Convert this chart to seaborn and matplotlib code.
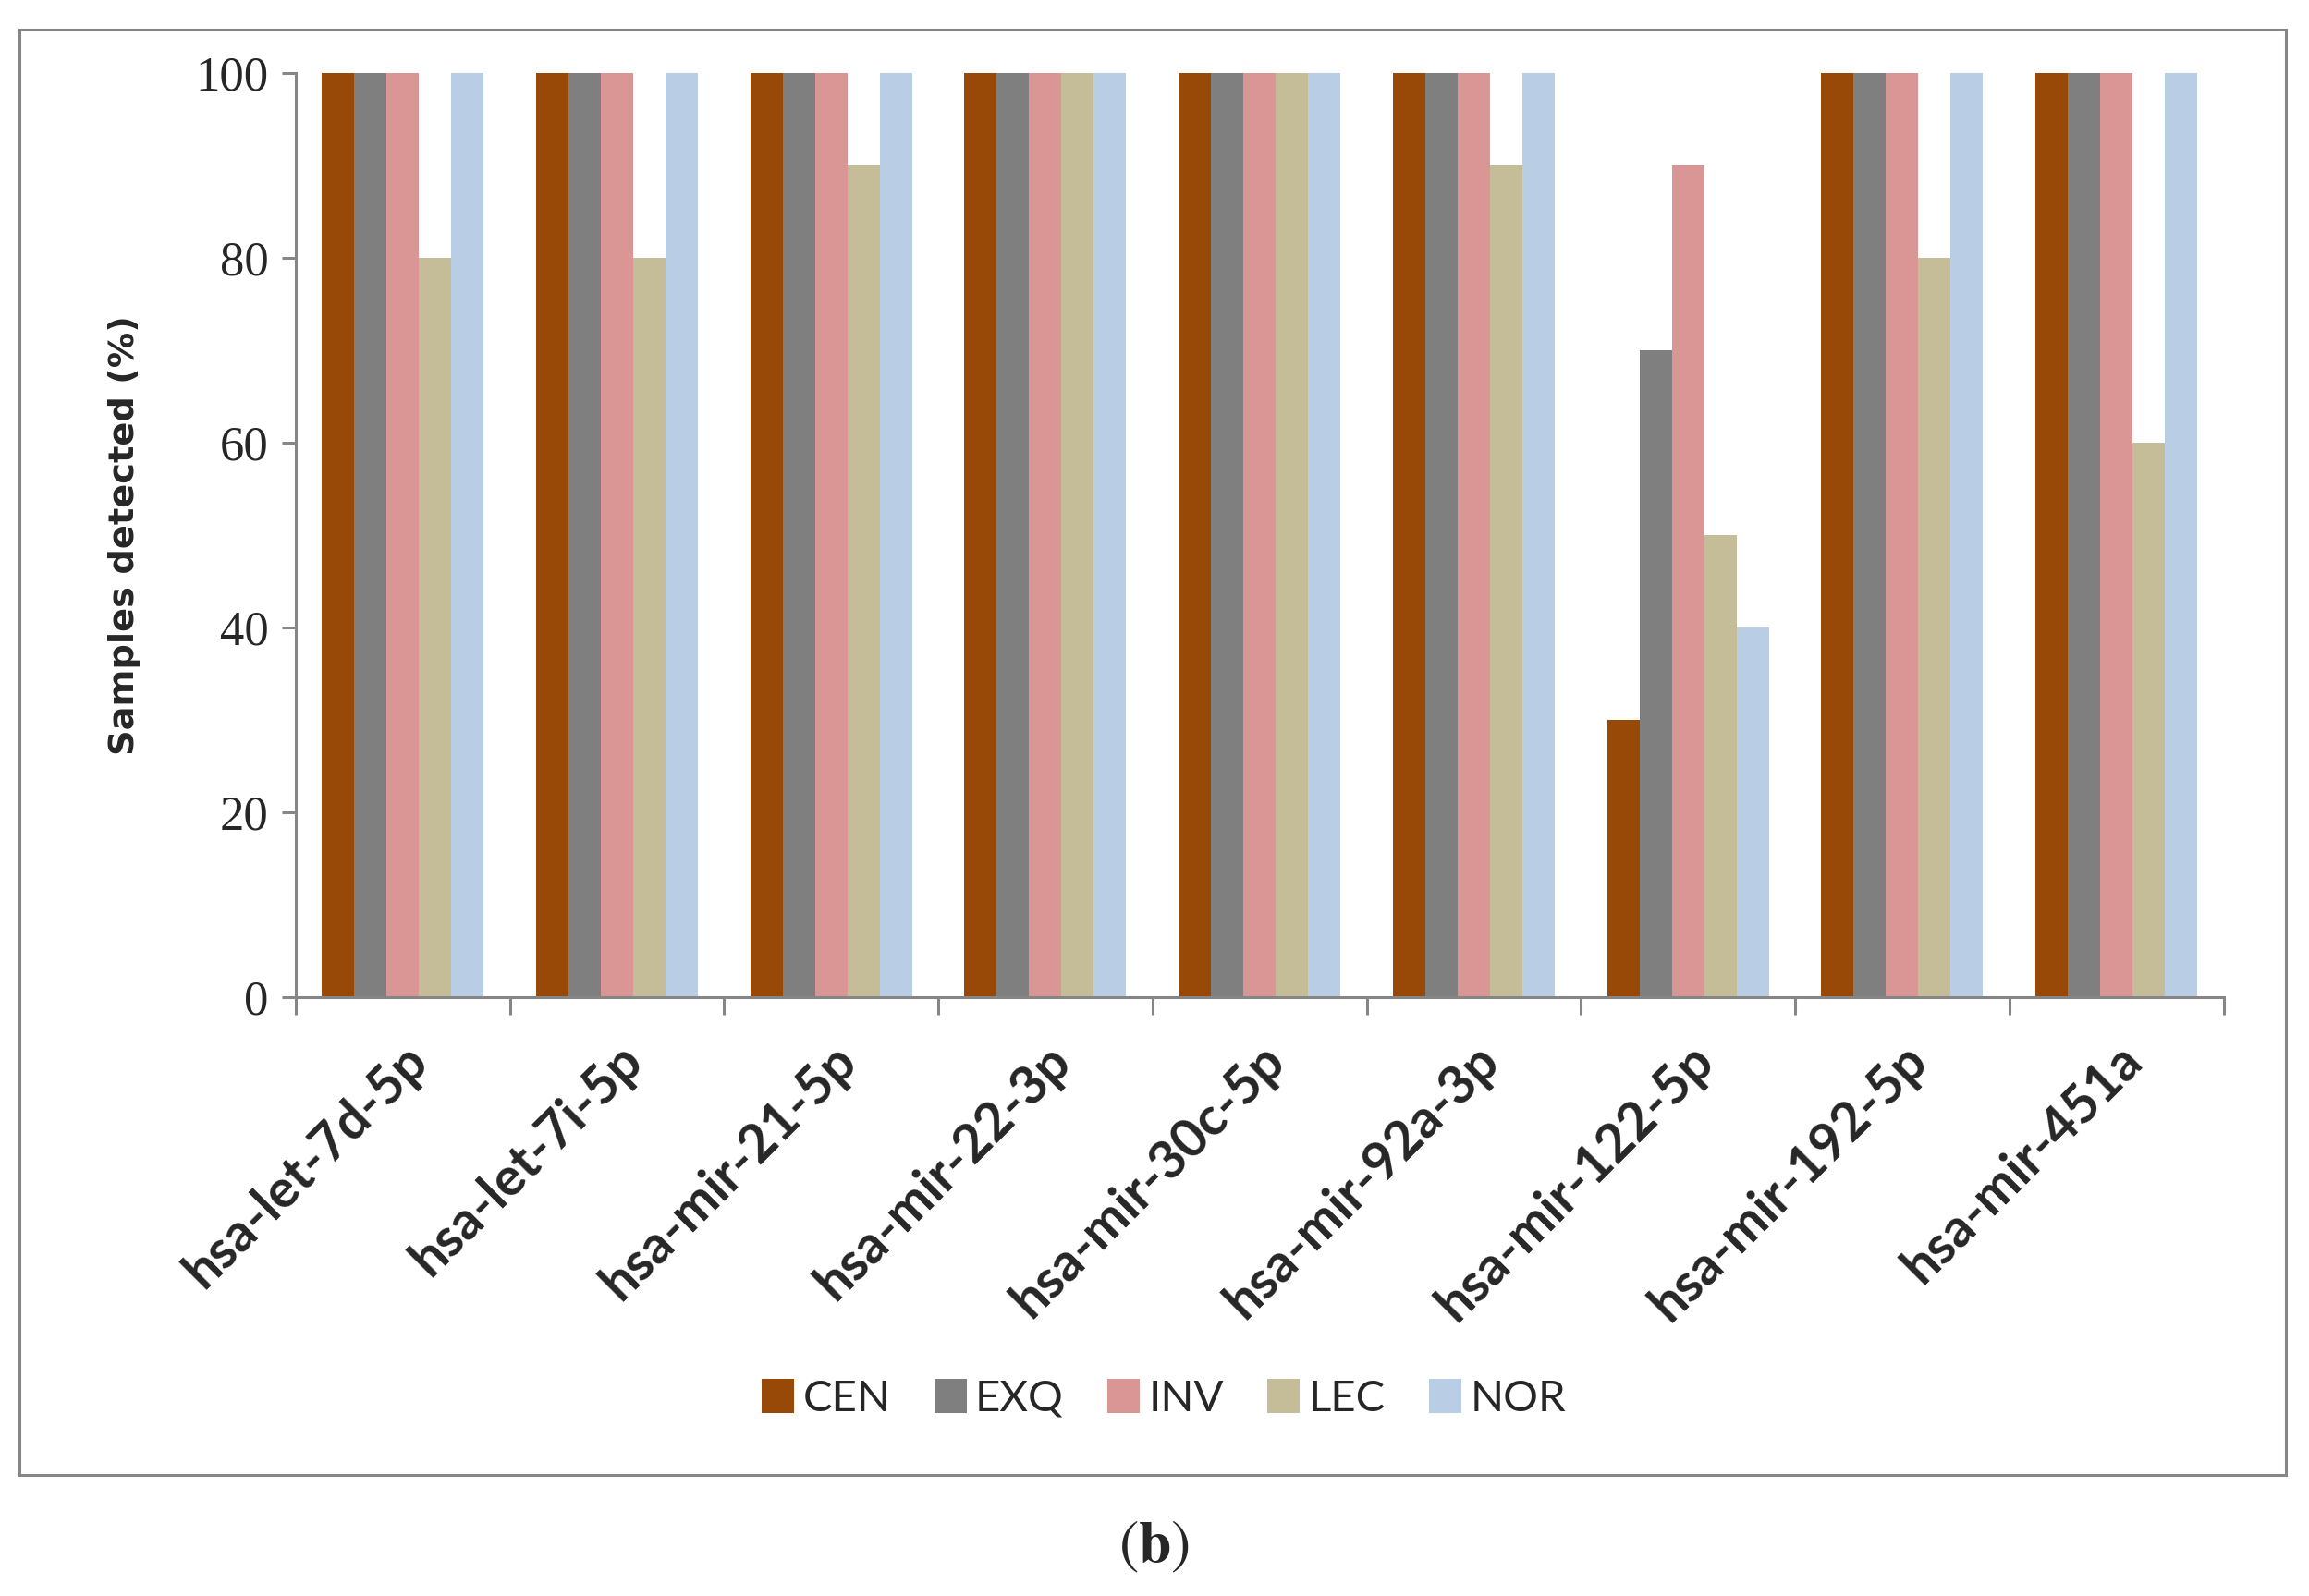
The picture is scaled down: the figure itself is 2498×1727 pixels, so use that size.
import numpy as np
import pandas as pd
import matplotlib
matplotlib.use("Agg")
import matplotlib.pyplot as plt
from matplotlib.patches import Rectangle
import seaborn as sns

mirnas = ['hsa-let-7d-5p', 'hsa-let-7i-5p', 'hsa-mir-21-5p', 'hsa-mir-22-3p',
          'hsa-mir-30c-5p', 'hsa-mir-92a-3p', 'hsa-mir-122-5p', 'hsa-mir-192-5p',
          'hsa-mir-451a']
groups = ['CEN', 'EXQ', 'INV', 'LEC', 'NOR']

cen = [100, 100, 100, 100, 100, 100, 30, 100, 100]
exq = [100, 100, 100, 100, 100, 100, 70, 100, 100]
inv = [100, 100, 100, 100, 100, 100, 90, 100, 100]
lec = [80, 80, 90, 100, 100, 90, 50, 80, 60]
nor = [100, 100, 100, 100, 100, 100, 40, 100, 100]

yticks = [0, 20, 40, 60, 80, 100]
colors = ['#984807', '#7f7f7f', '#d99694', '#c4bd97', '#b9cde5']

# long format for seaborn
rows = []
for g, vals in zip(groups, [cen, exq, inv, lec, nor]):
    for m, v in zip(mirnas, vals):
        rows.append({'mirna': m, 'group': g, 'pct': v})
df = pd.DataFrame(rows)

sns.set_style('white')
plt.rcParams['mathtext.fontset'] = 'stix'

fig = plt.figure(figsize=(12.49, 8.635), dpi=200)
ax = fig.add_axes([0.128, 0.3755, 0.835, 0.5785])

sns.barplot(data=df, x='mirna', y='pct', hue='group', order=mirnas,
            hue_order=groups, palette=colors, saturation=1, width=0.755,
            gap=0, linewidth=0, ax=ax)

grey = '#868686'
ax.set_xlim(-0.5, len(mirnas) - 0.5)
ax.set_ylim(0, 100)
ax.set_yticks(yticks)
ax.set_yticklabels([str(t) for t in yticks], fontfamily='Liberation Serif', fontsize=19)
ax.tick_params(axis='y', direction='out', length=5.5, width=1.1, color=grey,
               pad=5, left=True)

# group labels, with ticks at the group boundaries
ax.set_xticks(range(len(mirnas)))
ax.set_xticklabels(mirnas, rotation=45, ha='right', rotation_mode='anchor',
                   fontfamily='Lato', fontweight='bold', fontsize=20.5)
ax.tick_params(axis='x', which='major', length=0, pad=15)
ax.set_xticks(np.arange(-0.5, len(mirnas)), minor=True)
ax.tick_params(axis='x', which='minor', direction='out', length=7, width=1.1,
               color=grey, bottom=True)

for side in ['top', 'right']:
    ax.spines[side].set_visible(False)
for side in ['left', 'bottom']:
    ax.spines[side].set_color(grey)
    ax.spines[side].set_linewidth(1.1)

ax.set_xlabel('')
ax.set_ylabel('Samples detected (%)', fontfamily='DejaVu Sans', fontweight='bold',
              fontsize=13.8)
ax.yaxis.set_label_coords(-0.08, 0.5)

ax.legend_.remove()
handles = [Rectangle((0, 0), 1, 1, facecolor=c, edgecolor='none') for c in colors]
fig.legend(handles, groups, loc='center', bbox_to_anchor=(0.504, 0.1235), ncol=5,
           frameon=False, prop={'family': 'Lato', 'size': 17},
           handlelength=0.74, handleheight=0.8, handletextpad=0.2,
           columnspacing=1.0)

# outer frame
fig.patches.append(Rectangle((0.0083, 0.0756), 0.9817, 0.906, transform=fig.transFigure,
                             fill=False, edgecolor=grey, linewidth=1.1))

fig.text(0.5, 0.031, r'$(\mathbf{b})$', ha='center', va='center', fontsize=23)

fig.savefig('out.png', dpi=200)
